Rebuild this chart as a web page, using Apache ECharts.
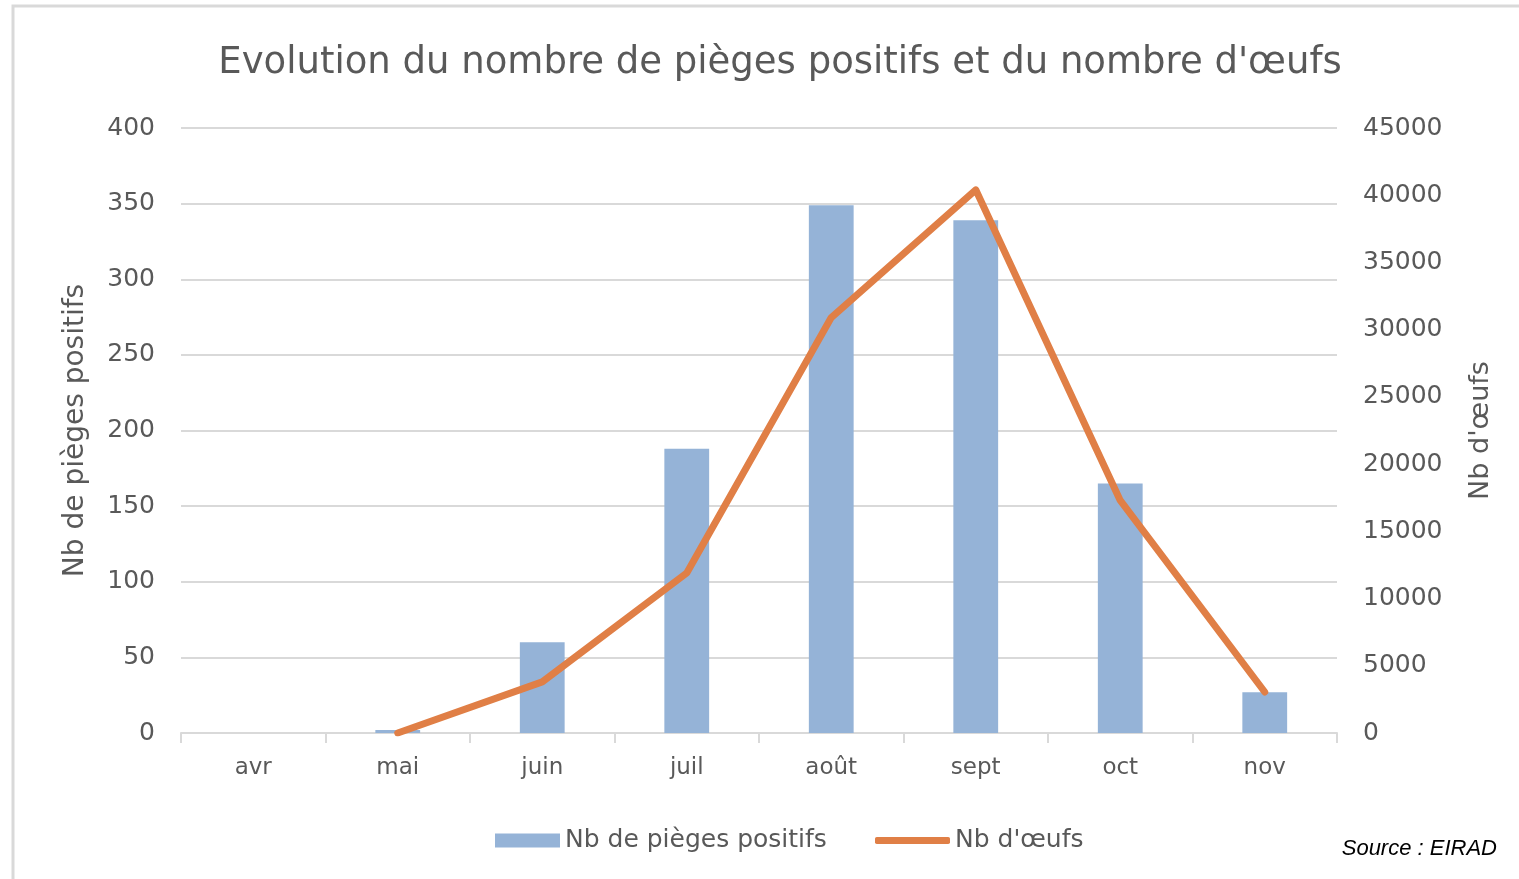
<!DOCTYPE html>
<html>
<head>
<meta charset="utf-8">
<title>Evolution du nombre de pièges positifs</title>
<script src="https://cdn.jsdelivr.net/npm/echarts@6/dist/echarts.min.js"></script>
<style>
    html, body { margin: 0; padding: 0; background: #fff; }
    #chart { width: 1519px; height: 879px; }
</style>
</head>
<body>
<div id="chart"></div>
<script>
// mois
const months = ['avr', 'mai', 'juin', 'juil', 'août', 'sept', 'oct', 'nov'];
// nombre de pièges positifs (axe gauche)
const pieges = [0, 2, 60, 188, 349, 339, 165, 27];
// nombre d'oeufs (axe droit), pas de valeur en avril
const oeufs = ['-', 0, 3800, 11900, 30900, 40400, 17300, 3050];

const txt = '#595959';
const font = 'DejaVu Sans';
const bleu = '#95b3d7';
const orange = '#e07f46';

const chart = echarts.init(document.getElementById('chart'));
const option = {
    animation: false,
    backgroundColor: '#fff',
    textStyle: { fontFamily: font, color: txt },
    title: {
        text: "Evolution du nombre de pièges positifs et du nombre d'œufs",
        left: 775,
        textAlign: 'center',
        top: 40,
        textStyle: { fontFamily: font, fontSize: 37, fontWeight: 'normal', color: txt }
    },
    graphic: [
        {
            // cadre gris du graphique
            type: 'rect',
            shape: { x: 13, y: 6, width: 1530, height: 900 },
            style: { fill: 'none', stroke: '#d9d9d9', lineWidth: 3 },
            silent: true
        },
        {
            type: 'text',
            right: 22,
            top: 838,
            style: {
                text: 'Source : EIRAD',
                fontFamily: 'Liberation Sans',
                fontStyle: 'italic',
                fontSize: 22,
                fill: '#000'
            }
        }
    ],
    // deux légendes pour avoir des icônes de tailles différentes
    legend: [
        {
            left: 490,
            top: 823,
            itemWidth: 65,
            itemHeight: 14,
            itemGap: 8,
            icon: 'rect',
            textStyle: { fontFamily: font, fontSize: 25, color: txt },
            data: ['Nb de pièges positifs']
        },
        {
            left: 870,
            top: 823,
            itemWidth: 75,
            itemHeight: 7,
            itemGap: 2,
            icon: 'roundRect',
            textStyle: { fontFamily: font, fontSize: 25, color: txt },
            data: ["Nb d'œufs"]
        }
    ],
    grid: { left: 181, right: 182, top: 128, bottom: 146 },
    xAxis: {
        type: 'category',
        data: months,
        boundaryGap: true,
        axisLine: { lineStyle: { color: '#d9d9d9', width: 2 } },
        axisTick: { show: true, length: 10, lineStyle: { color: '#d9d9d9', width: 2 } },
        axisLabel: { margin: 24, fontSize: 23, color: txt, fontFamily: font }
    },
    yAxis: [
        {
            type: 'value',
            min: 0,
            max: 400,
            interval: 50,
            name: 'Nb de pièges positifs',
            nameLocation: 'middle',
            nameRotate: 90,
            nameGap: 91,
            nameTextStyle: { fontSize: 28, color: txt, fontFamily: font },
            axisLine: { show: false },
            axisTick: { show: false },
            axisLabel: { margin: 26, fontSize: 25, color: txt, fontFamily: font },
            splitLine: { lineStyle: { color: '#d9d9d9', width: 2 } }
        },
        {
            type: 'value',
            min: 0,
            max: 45000,
            interval: 5000,
            position: 'right',
            name: "Nb d'œufs",
            nameLocation: 'middle',
            nameRotate: 90,
            nameGap: 130,
            nameTextStyle: { fontSize: 27, color: txt, fontFamily: font },
            axisLine: { show: false },
            axisTick: { show: false },
            axisLabel: {
                margin: 26, fontSize: 25, color: txt, fontFamily: font,
                formatter: v => String(v)
            },
            splitLine: { show: false }
        }
    ],
    series: [
        {
            name: 'Nb de pièges positifs',
            type: 'bar',
            yAxisIndex: 0,
            barWidth: '31%',
            itemStyle: { color: bleu },
            data: pieges
        },
        {
            name: "Nb d'œufs",
            type: 'line',
            yAxisIndex: 1,
            showSymbol: false,
            symbol: 'none',
            lineStyle: { color: orange, width: 7, cap: 'round', join: 'round' },
            itemStyle: { color: orange },
            data: oeufs
        }
    ]
};
chart.setOption(option);
</script>
</body>
</html>
